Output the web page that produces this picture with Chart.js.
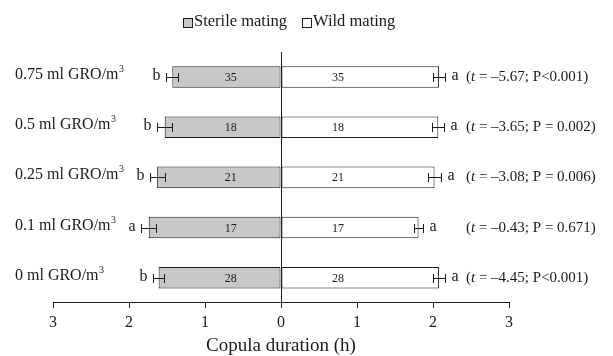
<!DOCTYPE html>
<html>
<head>
<meta charset="utf-8">
<script src="https://cdn.jsdelivr.net/npm/chart.js@4"></script>
<style>
  html, body { margin: 0; padding: 0; background: #fff; }
  #wrap { width: 613px; height: 356px; }
</style>
</head>
<body>
<div id="wrap"><canvas id="chart-copula"></canvas></div>
<script>
// rows, top to bottom
const doses = ['0.75', '0.5', '0.25', '0.1', '0'];
const sterileMean = [1.43, 1.53, 1.63, 1.74, 1.61];
const sterileErr = [0.08, 0.10, 0.10, 0.10, 0.07];
const wildMean = [2.08, 2.07, 2.02, 1.81, 2.08];
const wildErr = [0.08, 0.08, 0.08, 0.06, 0.08];
const sampleSize = [35, 18, 21, 17, 28];
const sterileLetters = ['b', 'b', 'b', 'a', 'b'];
const wildLetters = ['a', 'a', 'a', 'a', 'a'];
const tValues = ['–5.67', '–3.65', '–3.08', '–0.43', '–4.45'];
const pValues = ['P<0.001', 'P = 0.002', 'P = 0.006', 'P = 0.671', 'P<0.001'];
const seriesNames = ['Sterile mating', 'Wild mating'];
const xTicks = [-3, -2, -1, 0, 1, 2, 3];

const serif = '"Liberation Serif", "Times New Roman", serif';
const ink = '#1a1a1a';
const grey = '#c8c8c8';

// labels, error bars, letters, n and t-tests
const annotations = {
  id: 'annotations',
  afterDatasetsDraw(chart) {
    const { ctx, chartArea, scales: { x, y } } = chart;
    ctx.save();
    ctx.strokeStyle = ink;
    ctx.fillStyle = ink;
    ctx.lineWidth = 1;

    doses.forEach((dose, i) => {
      const cy = Math.round(y.getPixelForValue(i));

      // error bars
      const bars = [[-sterileMean[i], sterileErr[i]], [wildMean[i], wildErr[i]]];
      const ends = bars.map(([m, e]) => {
        const x0 = Math.round(x.getPixelForValue(m - e)) + 0.5;
        const x1 = Math.round(x.getPixelForValue(m + e)) + 0.5;
        ctx.beginPath();
        ctx.moveTo(x0, cy + 0.5); ctx.lineTo(x1, cy + 0.5);
        ctx.moveTo(x0, cy - 4); ctx.lineTo(x0, cy + 5);
        ctx.moveTo(x1, cy - 4); ctx.lineTo(x1, cy + 5);
        ctx.stroke();
        return [x0, x1];
      });

      // letters
      ctx.font = '16px ' + serif;
      ctx.textBaseline = 'middle';
      ctx.textAlign = 'right';
      ctx.fillText(sterileLetters[i], ends[0][0] - 6, cy - 1);
      ctx.textAlign = 'left';
      ctx.fillText(wildLetters[i], ends[1][1] + 6, cy - 1);

      // sample sizes
      ctx.font = '12px ' + serif;
      ctx.textAlign = 'center';
      ctx.fillText(sampleSize[i], x.getPixelForValue(-0.66), cy + 1);
      ctx.fillText(sampleSize[i], x.getPixelForValue(0.75), cy + 1);

      // row label with superscript
      ctx.textAlign = 'left';
      ctx.font = '16px ' + serif;
      const lab = dose + ' ml GRO/m';
      const lx = chartArea.left - 38;
      ctx.fillText(lab, lx, cy - 2);
      const w = ctx.measureText(lab).width;
      ctx.font = '10px ' + serif;
      ctx.fillText('3', lx + w + 0.5, cy - 8);

      // t-test
      let tx = chartArea.right - 43;
      ctx.font = '15px ' + serif;
      ctx.fillText('(', tx, cy);
      tx += ctx.measureText('(').width;
      ctx.font = 'italic 15px ' + serif;
      ctx.fillText('t', tx, cy);
      tx += ctx.measureText('t').width;
      ctx.font = '15px ' + serif;
      ctx.fillText(' = ' + tValues[i] + '; ' + pValues[i] + ')', tx, cy);
    });

    // legend
    ctx.font = '16.5px ' + serif;
    ctx.textAlign = 'left';
    let lx = 183;
    const ly = 21.5;
    seriesNames.forEach((name, k) => {
      ctx.fillStyle = k === 0 ? grey : '#fff';
      ctx.fillRect(lx + 0.5, ly - 3, 9, 9);
      ctx.strokeRect(lx + 0.5, ly - 3, 9, 9);
      ctx.fillStyle = ink;
      ctx.fillText(name, lx + 11, ly);
      lx += 11 + ctx.measureText(name).width + 15;
    });
    ctx.restore();
  }
};

const ctx = document.getElementById('chart-copula').getContext('2d');
const copulaChart = new Chart(ctx, {
  type: 'bar',
  data: {
    labels: doses,
    datasets: [
      {
        label: seriesNames[0],
        data: sterileMean.map(v => -v),
        backgroundColor: grey,
        borderColor: ink,
        borderWidth: 1,
        borderSkipped: false
      },
      {
        label: seriesNames[1],
        data: wildMean,
        backgroundColor: '#fff',
        borderColor: ink,
        borderWidth: 1,
        borderSkipped: false
      }
    ]
  },
  options: {
    indexAxis: 'y',
    responsive: true,
    maintainAspectRatio: false,
    animation: false,
    layout: { padding: { left: 53, right: 104, top: 52, bottom: 0 } },
    datasets: { bar: { barPercentage: 0.43, categoryPercentage: 1 } },
    plugins: { legend: { display: false }, tooltip: { enabled: false } },
    scales: {
      x: {
        stacked: true,
        min: xTicks[0],
        max: xTicks[xTicks.length - 1],
        afterBuildTicks: axis => { axis.ticks = xTicks.map(v => ({ value: v })); },
        grid: { drawOnChartArea: false, drawTicks: true, tickLength: 5, color: ink },
        border: { display: true, color: ink, width: 1 },
        ticks: {
          padding: 5,
          color: ink,
          font: { family: serif, size: 16 },
          callback: v => Math.abs(v)
        },
        title: {
          display: true,
          text: 'Copula duration (h)',
          color: ink,
          padding: 0,
          font: { family: serif, size: 19, lineHeight: 1 }
        }
      },
      y: {
        stacked: true,
        position: { x: 0 },
        ticks: { display: false },
        grid: { display: false },
        border: { display: true, color: ink, width: 1 }
      }
    }
  },
  plugins: [annotations]
});
</script>
</body>
</html>
